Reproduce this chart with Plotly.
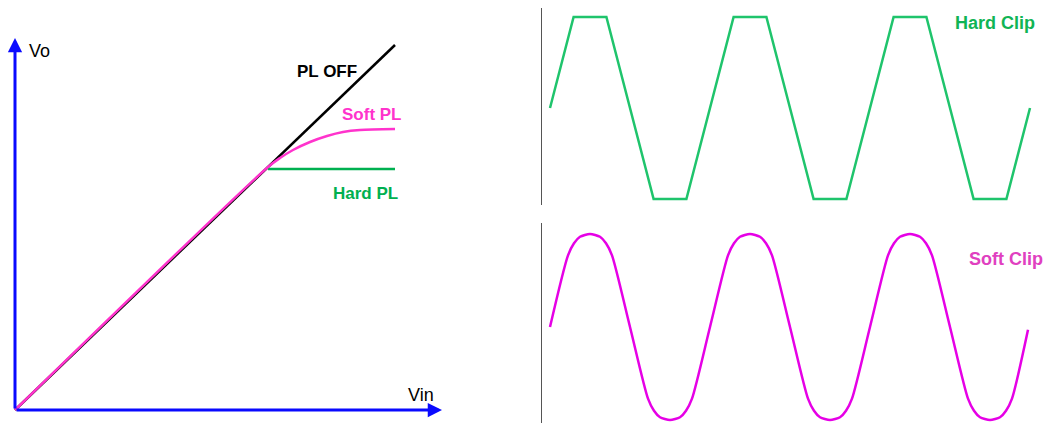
import plotly.graph_objects as go

# ---------------- data ----------------
# Left panel: transfer curves (Vin -> Vo)
PL_OFF_VIN = [0.0, 3.80]
PL_OFF_VO = [0.0, 3.65]

SOFT_PL_VIN = [0.0, 2.53, 2.65, 2.78, 2.95, 3.12, 3.28, 3.45, 3.80]
SOFT_PL_VO = [0.0, 2.43, 2.52, 2.60, 2.68, 2.74, 2.78, 2.80, 2.81]

HARD_PL_VIN = [2.53, 3.80]
HARD_PL_VO = [2.41, 2.41]

VIN_TIP = 4.27
VO_TIP = 3.72

# Right top: hard clipped waveform (time, amplitude)
HARD_T = [0, 0.59, 1.41, 2.59, 3.41, 4.59, 5.41, 6.59, 7.41, 8.59, 9.41, 10.59, 11.41, 12.0]
HARD_Y = [0, 1, 1, -1, -1, 1, 1, -1, -1, 1, 1, -1, -1, 0]

# Right bottom: soft clipped waveform (time, amplitude)
SOFT_T = [0, 0.45, 0.6, 0.75, 1.0, 1.25, 1.4, 1.55,
          2.0, 2.45, 2.6, 2.75, 3.0, 3.25, 3.4, 3.55,
          4.0, 4.45, 4.6, 4.75, 5.0, 5.25, 5.4, 5.55,
          6.0, 6.45, 6.6, 6.75, 7.0, 7.25, 7.4, 7.55,
          8.0, 8.45, 8.6, 8.75, 9.0, 9.25, 9.4, 9.55,
          10.0, 10.45, 10.6, 10.75, 11.0, 11.25, 11.4, 11.55,
          11.95]
SOFT_Y = [0, 0.77, 0.9, 0.97, 1.0, 0.97, 0.9, 0.77,
          0, -0.77, -0.9, -0.97, -1.0, -0.97, -0.9, -0.77,
          0, 0.77, 0.9, 0.97, 1.0, 0.97, 0.9, 0.77,
          0, -0.77, -0.9, -0.97, -1.0, -0.97, -0.9, -0.77,
          0, 0.77, 0.9, 0.97, 1.0, 0.97, 0.9, 0.77,
          0, -0.77, -0.9, -0.97, -1.0, -0.97, -0.9, -0.77,
          -0.03]

# ---------------- styles ----------------
BLUE = "#0a0aff"
BLACK = "#000000"
PINK = "#ff33cc"
GREEN = "#00b050"
WAVE_GREEN = "#1fc46c"
WAVE_MAGENTA = "#e600e6"
FONT = "Liberation Sans, Arial, sans-serif"

fig = go.Figure()

# Left panel traces
fig.add_trace(go.Scatter(x=PL_OFF_VIN, y=PL_OFF_VO, mode="lines",
                         line=dict(color=BLACK, width=2.5), xaxis="x", yaxis="y"))
fig.add_trace(go.Scatter(x=HARD_PL_VIN, y=HARD_PL_VO, mode="lines",
                         line=dict(color=GREEN, width=2.5), xaxis="x", yaxis="y"))
fig.add_trace(go.Scatter(x=SOFT_PL_VIN, y=SOFT_PL_VO, mode="lines",
                         line=dict(color=PINK, width=2.5, shape="spline", smoothing=0.8),
                         xaxis="x", yaxis="y"))

# Right panels
fig.add_trace(go.Scatter(x=HARD_T, y=HARD_Y, mode="lines",
                         line=dict(color=WAVE_GREEN, width=2.5), xaxis="x2", yaxis="y2"))
fig.add_trace(go.Scatter(x=SOFT_T, y=SOFT_Y, mode="lines",
                         line=dict(color=WAVE_MAGENTA, width=2.5, shape="spline", smoothing=0.7),
                         xaxis="x3", yaxis="y3"))

hidden = dict(showgrid=False, zeroline=False, showticklabels=False, showline=False, ticks="")

annotations = [
    # axis arrows
    dict(x=VIN_TIP, y=0, ax=0, ay=0, xref="x", yref="y", axref="x", ayref="y",
         showarrow=True, arrowhead=2, arrowsize=0.95, arrowwidth=3, arrowcolor=BLUE, text=""),
    dict(x=0, y=VO_TIP, ax=0, ay=0, xref="x", yref="y", axref="x", ayref="y",
         showarrow=True, arrowhead=2, arrowsize=0.95, arrowwidth=3, arrowcolor=BLUE, text=""),
    dict(x=0.24, y=3.59, xref="x", yref="y", text="Vo", showarrow=False,
         font=dict(family=FONT, size=18, color=BLACK)),
    dict(x=4.06, y=0.15, xref="x", yref="y", text="Vin", showarrow=False,
         font=dict(family=FONT, size=18, color=BLACK)),
    dict(x=3.12, y=3.39, xref="x", yref="y", text="<b>PL OFF</b>", showarrow=False,
         font=dict(family=FONT, size=17, color=BLACK)),
    dict(x=3.57, y=2.96, xref="x", yref="y", text="<b>Soft PL</b>", showarrow=False,
         font=dict(family=FONT, size=17, color=PINK)),
    dict(x=3.50, y=2.17, xref="x", yref="y", text="<b>Hard PL</b>", showarrow=False,
         font=dict(family=FONT, size=17, color=GREEN)),
    dict(x=11.125, y=0.93, xref="x2", yref="y2", text="<b>Hard Clip</b>", showarrow=False,
         font=dict(family=FONT, size=18, color="#10b455")),
    dict(x=11.4, y=0.73, xref="x3", yref="y3", text="<b>Soft Clip</b>", showarrow=False,
         font=dict(family=FONT, size=18, color="#e040c0")),
]

fig.update_layout(
    width=1048, height=423,
    margin=dict(l=0, r=0, t=0, b=0),
    paper_bgcolor="white", plot_bgcolor="rgba(0,0,0,0)",
    showlegend=False,
    xaxis=dict(domain=[0, 0.5], range=[-0.15, 5.09], **hidden),
    yaxis=dict(domain=[0, 1], range=[-0.13, 4.10], **hidden),
    xaxis2=dict(domain=[542 / 1048, 1], range=[-0.2, 12.45], anchor="y2", **hidden),
    yaxis2=dict(domain=[218 / 423, 415 / 423], range=[-1.066, 1.099], anchor="x2",
                showgrid=False, zeroline=False, showticklabels=False, ticks="",
                showline=True, linecolor="#555555", linewidth=1),
    xaxis3=dict(domain=[542 / 1048, 1], range=[-0.2, 12.45], anchor="y3", **hidden),
    yaxis3=dict(domain=[0, 200 / 423], range=[-1.032, 1.118], anchor="x3",
                showgrid=False, zeroline=False, showticklabels=False, ticks="",
                showline=True, linecolor="#555555", linewidth=1),
    annotations=annotations,
)

fig.write_html("out.html",
               config={"displayModeBar": False},
               post_script="document.body.style.margin='0';document.body.style.overflow='hidden';")
